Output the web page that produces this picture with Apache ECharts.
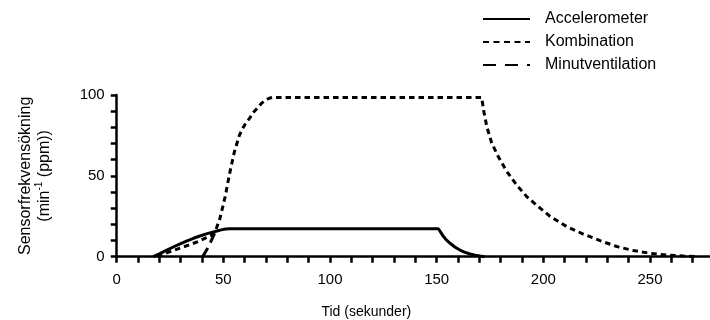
<!DOCTYPE html>
<html>
<head>
<meta charset="utf-8">
<script src="https://cdn.jsdelivr.net/npm/echarts@6/dist/echarts.min.js"></script>
<style>
  html, body { margin: 0; padding: 0; background: #fff; }
  #chart { width: 710px; height: 320px; }
</style>
</head>
<body>
<div id="chart"></div>
<script>
// Sensor rate increase over time, three sensor modes: [seconds, rate increase]
const seriesNames = ['Accelerometer', 'Kombination', 'Minutventilation'];

const accelerometer = [
  [17.2, 0], [20, 1.8], [23, 3.8], [26.5, 6], [30, 8.1], [33, 9.8], [36, 11.4],
  [39, 12.8], [42, 14.1], [45, 15.2], [47, 15.9], [49, 16.6], [51, 17.1], [53, 17.3],
  [150.8, 17.3], [152, 14.9], [153.1, 12.6], [154.5, 10.4], [156.3, 8.3], [158.5, 6],
  [160.9, 4.1], [163, 2.8], [165.6, 1.7], [168, 0.9], [170.3, 0.4], [172.5, 0]
];

const kombination = [
  [19, 0], [22, 1.6], [25, 3.1], [29.7, 5.3], [34, 7.3], [39, 9.8], [42, 11.8],
  [44, 13], [46, 14.8], [48.4, 23.7], [49.7, 30.8], [51, 38], [52.2, 46.5],
  [53.5, 55], [55.2, 65], [57.5, 75], [58.7, 78.5], [60, 81.5], [62.5, 86],
  [64, 89.2], [66, 92], [68, 95], [70, 97], [71.5, 98], [73, 98.5],
  [171.1, 98.5], [171.5, 95], [172, 90.5], [173.5, 80.5], [175.8, 70.3],
  [178.9, 61.8], [182.8, 52.8], [187.5, 44.3], [192.2, 37.2], [197.7, 30.9],
  [203.1, 25], [211, 18.6], [218.7, 14], [226.6, 9.9], [234.4, 6.3],
  [242.2, 3.8], [250, 2.1], [257.8, 1.0], [265.6, 0.4], [272, 0]
];

const minutventilation = [
  [40.3, 0], [43, 6], [46, 14.8]
];

const xTickLabels = [0, 50, 100, 150, 200, 250];
const yTickLabels = [0, 50, 100];

const FONT = "'Liberation Sans', Arial, Helvetica, sans-serif";
const INK = '#000';
const LINE_W = 3;

const chart = echarts.init(document.getElementById('chart'), null, { renderer: 'canvas' });

const axisCommon = {
  type: 'value',
  interval: 10,
  axisLine: { show: true, lineStyle: { color: INK, width: 2.5 } },
  axisTick: { show: true, length: 6, lineStyle: { color: INK, width: 2.5 } },
  splitLine: { show: false }
};

chart.setOption({
  animation: false,
  backgroundColor: '#fff',
  textStyle: { fontFamily: FONT, color: INK },
  legend: {
    orient: 'vertical',
    left: 477,
    top: 6,
    itemWidth: 47,
    itemHeight: 14,
    itemGap: 7,
    itemStyle: { color: 'rgba(0,0,0,0)', borderColor: 'rgba(0,0,0,0)', borderWidth: 0, opacity: 0 },
    textStyle: { fontFamily: FONT, fontSize: 16, color: INK, padding: [0, 0, 0, 10] },
    data: [
      { name: seriesNames[0] },
      { name: seriesNames[1], lineStyle: { type: [6, 4.5] } },
      { name: seriesNames[2], lineStyle: { type: [13, 9] } }
    ]
  },
  grid: { left: 116.7, top: 95, right: -4, bottom: 63.3, containLabel: false, outerBoundsMode: 'none' },
  xAxis: Object.assign({}, axisCommon, {
    min: 0,
    max: 280,
    name: 'Tid (sekunder)',
    nameLocation: 'middle',
    nameGap: 48,
    nameTextStyle: { fontFamily: FONT, fontSize: 14, color: INK, padding: [0, 98, 0, 0] },
    axisLabel: {
      fontFamily: FONT, fontSize: 15, color: INK, margin: 16,
      formatter: v => (xTickLabels.indexOf(v) >= 0 ? String(v) : '')
    }
  }),
  yAxis: Object.assign({}, axisCommon, {
    min: 0,
    max: 100,
    name: '{a|Sensorfrekvensökning}\n{a|(min}{sup|-1}{a| (ppm))}',
    nameLocation: 'middle',
    nameGap: 63,
    nameTextStyle: {
      fontFamily: FONT, fontSize: 16, color: INK,
      rich: {
        a: { fontFamily: FONT, fontSize: 16, color: INK, lineHeight: 19 },
        sup: { fontFamily: FONT, fontSize: 10, color: INK, lineHeight: 11, verticalAlign: 'top' }
      }
    },
    axisLabel: {
      fontFamily: FONT, fontSize: 15, color: INK, margin: 12,
      formatter: v => (yTickLabels.indexOf(v) >= 0 ? String(v) : '')
    }
  }),
  series: [
    {
      name: seriesNames[0], type: 'line', data: accelerometer,
      symbol: 'none', smooth: false, z: 3,
      lineStyle: { color: INK, width: LINE_W, type: 'solid' },
      itemStyle: { color: INK }
    },
    {
      name: seriesNames[1], type: 'line', data: kombination,
      symbol: 'none', smooth: false, z: 2,
      lineStyle: { color: INK, width: LINE_W, type: [5.5, 4] },
      itemStyle: { color: INK }
    },
    {
      name: seriesNames[2], type: 'line', data: minutventilation,
      symbol: 'none', smooth: false, z: 2,
      lineStyle: { color: INK, width: LINE_W, type: [10, 6] },
      itemStyle: { color: INK }
    }
  ]
});
</script>
</body>
</html>
